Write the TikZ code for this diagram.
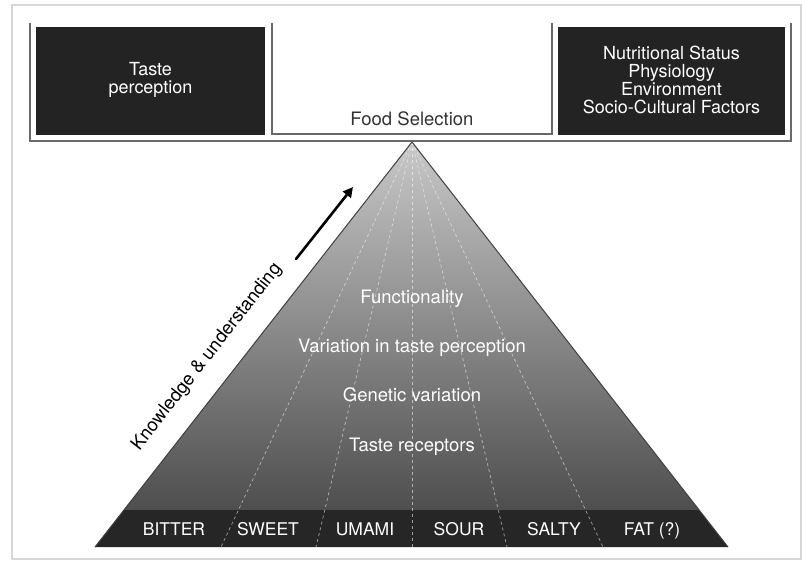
\documentclass[tikz,border=0pt]{standalone}
\usepackage{fontspec}
\setmainfont{TeX Gyre Heros}
\usetikzlibrary{arrows.meta, positioning, calc}

\definecolor{BoxDark}{RGB}{35, 35, 35}
\definecolor{TrayGray}{RGB}{105, 105, 105}
\definecolor{FrameGray}{RGB}{215, 215, 215}
\definecolor{PyrTop}{RGB}{200, 200, 200}
\definecolor{PyrBottom}{RGB}{78, 78, 78}
\definecolor{BandDark}{RGB}{38, 38, 38}

\tikzset{
  darkbox/.style={fill=BoxDark, draw=none},
  boxtext/.style={text=white, align=center, font=\fontsize{18}{18}\selectfont},
  layertext/.style={text=white, anchor=base, font=\fontsize{18.5}{20}\selectfont},
  bandtext/.style={text=white, anchor=base, font=\fontsize{17.5}{20}\selectfont},
  tray/.style={draw=TrayGray, line width=2pt},
  tastedash/.style={draw=white, opacity=0.55, dashed, line width=0.7pt}
}

\begin{document}
\begin{tikzpicture}[x=1pt, y=-1pt]
  \useasboundingbox (0,0) rectangle (802,562);
  \fill[white] (0,0) rectangle (802,562);

  % outer frame
  \draw[FrameGray, line width=1.2pt] (12,5) rectangle (801,559);

  % the tray with its three boxes
  \draw[tray] (30,23) -- (30,141) -- (791,141) -- (791,23);
  \draw[tray, line width=1.6pt] (272,23) -- (272,134) -- (552,134) -- (552,23);
  \fill[darkbox] (36,27) rectangle (265,135);
  \fill[darkbox] (558,27) rectangle (785,135);

  \node[boxtext] (taste) at (150.5,80) {Taste\\perception};
  \node[boxtext] (factors) at (671.5,80) {Nutritional Status\\Physiology\\Environment\\Socio-Cultural Factors};
  \node[layertext, text=black!80] (food) at (412,125) {Food Selection};

  % pyramid
  \coordinate (apex) at (412,142);
  \coordinate (baseL) at (95,547);
  \coordinate (baseR) at (728,547);
  \coordinate (bandL) at (124,510);
  \coordinate (bandR) at (699,510);

  \shade[top color=PyrTop, bottom color=PyrBottom] (apex) -- (bandL) -- (bandR) -- cycle;
  \fill[BandDark] (bandL) -- (baseL) -- (baseR) -- (bandR) -- cycle;
  \foreach \x in {221,316,412,507,603}
    \draw[tastedash] (apex) -- (\x,547);
  \draw[black!75, line width=1pt] (baseL) -- (apex) -- (baseR);

  % layers
  \node[layertext] (func) at (412,303) {Functionality};
  \node[layertext] (vary) at (412,352) {Variation in taste perception};
  \node[layertext] (gene) at (412,401) {Genetic variation};
  \node[layertext] (recep) at (412,451) {Taste receptors};

  % taste qualities
  \node[bandtext] (bitter) at (174,535) {BITTER};
  \node[bandtext] (sweet) at (268,535) {SWEET};
  \node[bandtext] (umami) at (365,535) {UMAMI};
  \node[bandtext] (sour) at (459,535) {SOUR};
  \node[bandtext] (salty) at (554,535) {SALTY};
  \node[bandtext] (fat) at (652,535) {FAT (?)};

  % knowledge arrow
  \coordinate (kfrom) at (296,259);
  \coordinate (kto) at (353,187);
  \draw[line width=2.6pt, line cap=round, -{Triangle[length=10pt, width=10pt]}] (kfrom) -- (kto);
  \node[rotate=52, font=\fontsize{18.5}{20}\selectfont] (know) at (207,357) {Knowledge \& understanding};
\end{tikzpicture}
\end{document}
